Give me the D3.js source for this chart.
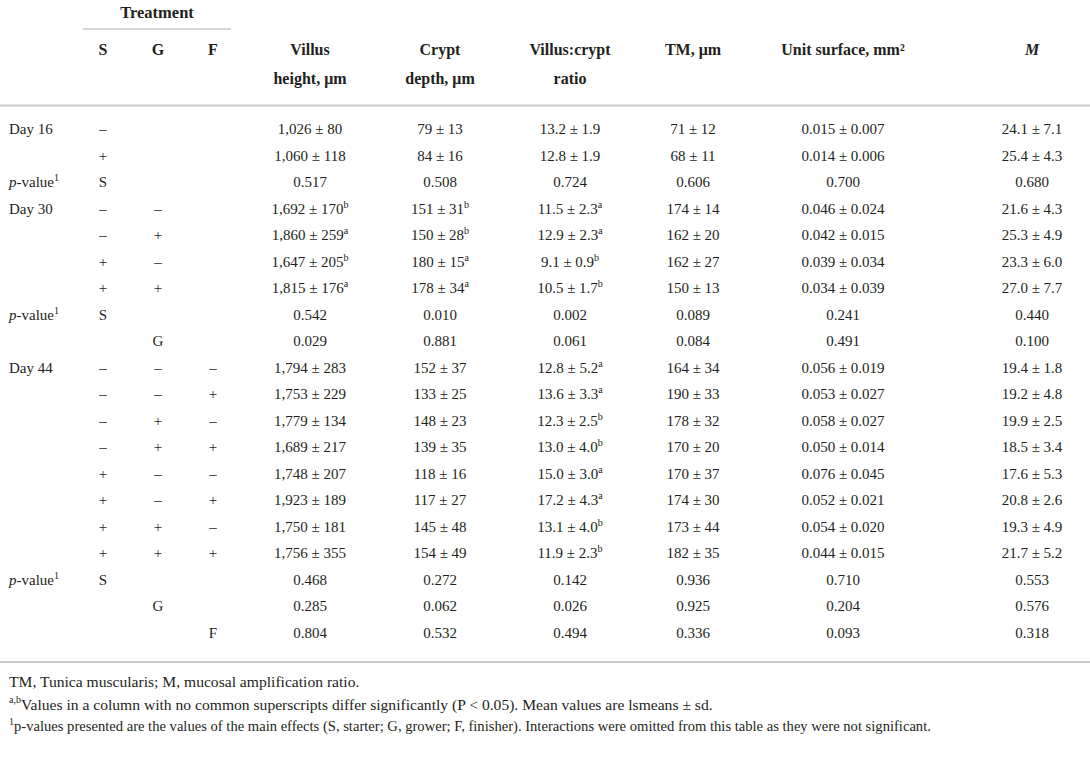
<!DOCTYPE html>
<html>
<head>
<meta charset="utf-8">
<script src="https://cdn.jsdelivr.net/npm/d3@7"></script>
<style>
  html, body { margin: 0; padding: 0; background: #fff; }
  svg { display: block; }
  text { font-family: "Liberation Serif", "DejaVu Serif", serif; fill: #231f20; }
</style>
</head>
<body>
<svg id="chart" width="1090" height="766"></svg>
<script>
// ---------- DATA ----------
const rowLabels = ["Day 16","","p-value","Day 30","","","","p-value","","Day 44","","","","","","","","p-value","",""];
const sCol = ["–","+","S","–","–","+","+","S","","–","–","–","–","+","+","+","+","S","",""];
const gCol = ["","","","–","+","–","+","","G","–","–","+","+","–","–","+","+","","G",""];
const fCol = ["","","","","","","","","","–","+","–","+","–","+","–","+","","","F"];

const villus = ["1,026 ± 80","1,060 ± 118","0.517","1,692 ± 170","1,860 ± 259","1,647 ± 205","1,815 ± 176","0.542","0.029","1,794 ± 283","1,753 ± 229","1,779 ± 134","1,689 ± 217","1,748 ± 207","1,923 ± 189","1,750 ± 181","1,756 ± 355","0.468","0.285","0.804"];
const villusSup = ["","","","b","a","b","a","","","","","","","","","","","","",""];
const crypt = ["79 ± 13","84 ± 16","0.508","151 ± 31","150 ± 28","180 ± 15","178 ± 34","0.010","0.881","152 ± 37","133 ± 25","148 ± 23","139 ± 35","118 ± 16","117 ± 27","145 ± 48","154 ± 49","0.272","0.062","0.532"];
const cryptSup = ["","","","b","b","a","a","","","","","","","","","","","","",""];
const ratio = ["13.2 ± 1.9","12.8 ± 1.9","0.724","11.5 ± 2.3","12.9 ± 2.3","9.1 ± 0.9","10.5 ± 1.7","0.002","0.061","12.8 ± 5.2","13.6 ± 3.3","12.3 ± 2.5","13.0 ± 4.0","15.0 ± 3.0","17.2 ± 4.3","13.1 ± 4.0","11.9 ± 2.3","0.142","0.026","0.494"];
const ratioSup = ["","","","a","a","b","b","","","a","a","b","b","a","a","b","b","","",""];
const tm = ["71 ± 12","68 ± 11","0.606","174 ± 14","162 ± 20","162 ± 27","150 ± 13","0.089","0.084","164 ± 34","190 ± 33","178 ± 32","170 ± 20","170 ± 37","174 ± 30","173 ± 44","182 ± 35","0.936","0.925","0.336"];
const unitSurface = ["0.015 ± 0.007","0.014 ± 0.006","0.700","0.046 ± 0.024","0.042 ± 0.015","0.039 ± 0.034","0.034 ± 0.039","0.241","0.491","0.056 ± 0.019","0.053 ± 0.027","0.058 ± 0.027","0.050 ± 0.014","0.076 ± 0.045","0.052 ± 0.021","0.054 ± 0.020","0.044 ± 0.015","0.710","0.204","0.093"];
const mRatio = ["24.1 ± 7.1","25.4 ± 4.3","0.680","21.6 ± 4.3","25.3 ± 4.9","23.3 ± 6.0","27.0 ± 7.7","0.440","0.100","19.4 ± 1.8","19.2 ± 4.8","19.9 ± 2.5","18.5 ± 3.4","17.6 ± 5.3","20.8 ± 2.6","19.3 ± 4.9","21.7 ± 5.2","0.553","0.576","0.318"];

const headerLine1 = ["S","G","F","Villus","Crypt","Villus:crypt","TM, μm","Unit surface, mm²","M"];
const headerLine2 = ["","","","height, μm","depth, μm","ratio","","",""];
const footnotes = [
  {sup: "", text: "TM, Tunica muscularis; M, mucosal amplification ratio."},
  {sup: "a,b", text: "Values in a column with no common superscripts differ significantly (P < 0.05). Mean values are lsmeans ± sd."},
  {sup: "1", text: "p-values presented are the values of the main effects (S, starter; G, grower; F, finisher). Interactions were omitted from this table as they were not significant."}
];

// ---------- LAYOUT ----------
const svg = d3.select("#chart");
const nRows = rowLabels.length;
const y = d3.scalePoint().domain(d3.range(nRows)).range([129, 632.5]);
const colKeys = ["S","G","F","villus","crypt","ratio","tm","unit","m"];
const x = d3.scaleOrdinal().domain(colKeys).range([103, 158, 213, 310, 440, 570, 693, 843, 1032]);

const lineColor = "#c9c9c9";

// Treatment header
svg.append("text").attr("x", 157).attr("y", 12).attr("text-anchor", "middle")
  .attr("dominant-baseline", "central").attr("font-weight", "bold").attr("font-size", 16.5)
  .text("Treatment");
svg.append("line").attr("x1", 83).attr("x2", 231).attr("y1", 29).attr("y2", 29)
  .attr("stroke", lineColor).attr("stroke-width", 1.5);

// Column headers
const hdr = svg.append("g").attr("font-weight", "bold").attr("font-size", 16);
hdr.selectAll("text.h1").data(colKeys).join("text").attr("class", "h1")
  .attr("x", d => x(d)).attr("y", 49).attr("text-anchor", "middle")
  .attr("dominant-baseline", "central")
  .attr("font-style", (d, i) => headerLine1[i] === "M" ? "italic" : null)
  .text((d, i) => headerLine1[i]);
hdr.selectAll("text.h2").data(colKeys).join("text").attr("class", "h2")
  .attr("x", d => x(d)).attr("y", 78).attr("text-anchor", "middle")
  .attr("dominant-baseline", "central")
  .text((d, i) => headerLine2[i]);

// Rules
svg.append("line").attr("x1", 0).attr("x2", 1090).attr("y1", 105.5).attr("y2", 105.5)
  .attr("stroke", lineColor).attr("stroke-width", 2);
svg.append("line").attr("x1", 0).attr("x2", 1090).attr("y1", 662).attr("y2", 662)
  .attr("stroke", lineColor).attr("stroke-width", 2);

// Body
const body = svg.append("g").attr("font-size", 15);
const rows = d3.range(nRows);

// row labels
const lbl = body.selectAll("text.lbl").data(rows).join("text").attr("class", "lbl")
  .attr("x", 9).attr("y", i => y(i)).attr("dominant-baseline", "central");
lbl.each(function(i) {
  const t = d3.select(this);
  const s = rowLabels[i];
  if (s === "p-value") {
    t.append("tspan").attr("font-style", "italic").text("p");
    t.append("tspan").text("-value");
    t.append("tspan").attr("font-size", 10).attr("dy", -5).text("1");
  } else {
    t.text(s);
  }
});

// treatment columns
[["S", sCol], ["G", gCol], ["F", fCol]].forEach(([k, arr]) => {
  body.selectAll("text.t" + k).data(rows).join("text").attr("class", "t" + k)
    .attr("x", x(k)).attr("y", i => y(i)).attr("text-anchor", "middle")
    .attr("dominant-baseline", "central")
    .text(i => arr[i]);
});

// value columns
const valueCols = [
  ["villus", villus, villusSup],
  ["crypt", crypt, cryptSup],
  ["ratio", ratio, ratioSup],
  ["tm", tm, null],
  ["unit", unitSurface, null],
  ["m", mRatio, null]
];
valueCols.forEach(([k, arr, sup]) => {
  const sel = body.selectAll("text.v" + k).data(rows).join("text").attr("class", "v" + k)
    .attr("x", x(k)).attr("y", i => y(i)).attr("text-anchor", "middle")
    .attr("dominant-baseline", "central");
  sel.each(function(i) {
    const t = d3.select(this);
    t.append("tspan").text(arr[i]);
    if (sup && sup[i]) {
      t.append("tspan").attr("font-size", 10).attr("dy", -5).text(sup[i]);
    }
  });
});

// Footnotes
const fnSizes = [15.6, 15.6, 14.6];
const fn = svg.append("g");
fn.selectAll("text").data(footnotes).join("text")
  .attr("x", 9).attr("y", (d, i) => 681 + i * 22.5).attr("dominant-baseline", "central")
  .attr("font-size", (d, i) => fnSizes[i])
  .each(function(d) {
    const t = d3.select(this);
    if (d.sup) {
      t.append("tspan").attr("font-size", 10).attr("dy", -5).text(d.sup);
      t.append("tspan").attr("dy", 5).text(d.text);
    } else {
      t.text(d.text);
    }
  });
</script>
</body>
</html>
